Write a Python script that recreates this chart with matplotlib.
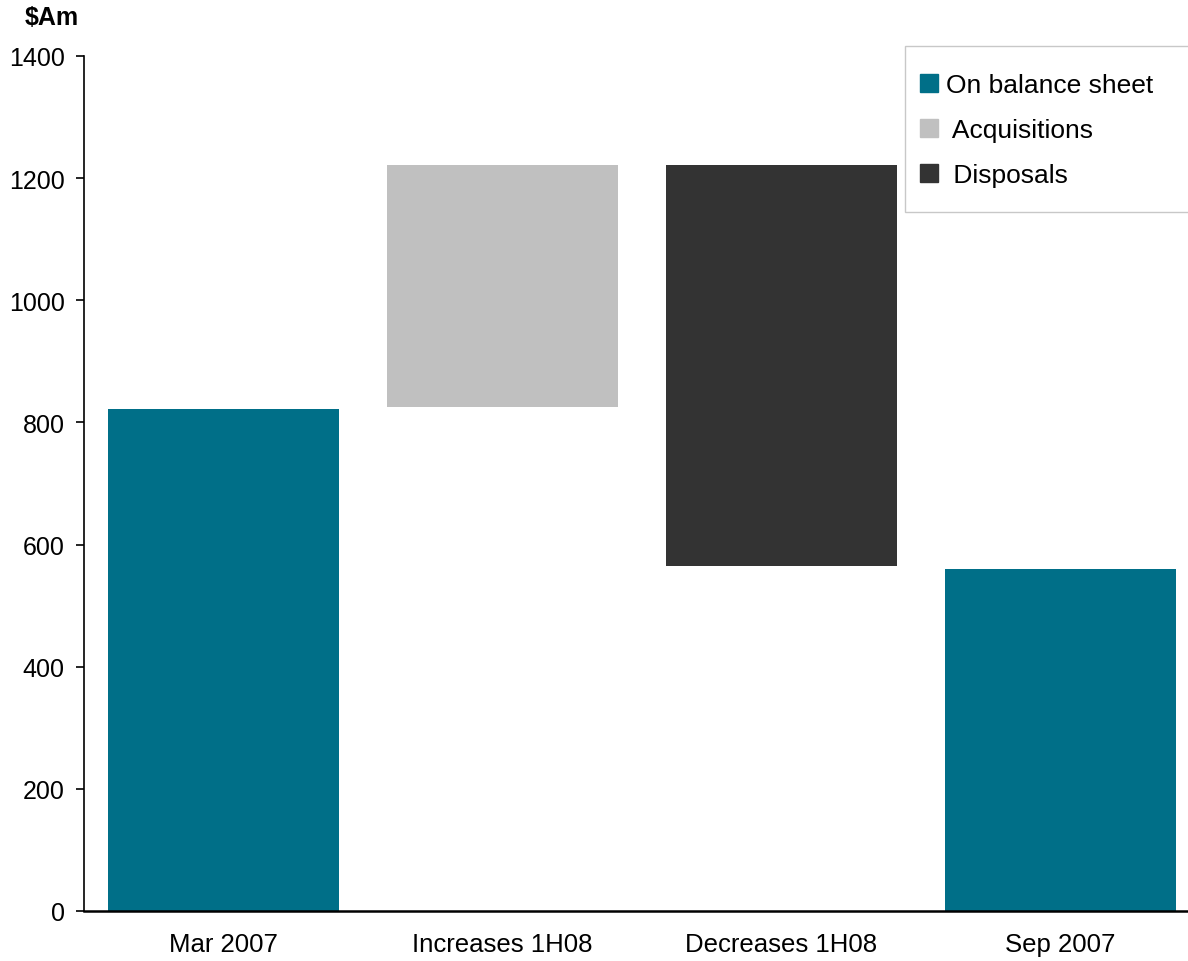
import matplotlib.pyplot as plt
from matplotlib.patches import Patch, Rectangle

plt.rcParams['font.family'] = ['Liberation Sans', 'DejaVu Sans']

categories = ['Mar 2007', 'Increases 1H08', 'Decreases 1H08', 'Sep 2007']
balance = [822, None, None, 560]
acq_low, acq_high = 826, 1222
disp_low, disp_high = 565, 1222

teal = '#006F88'
light = '#C0C0C0'
dark = '#333333'

fig = plt.figure(figsize=(11.88, 9.62), dpi=100)
ax = fig.add_axes([84 / 1188, 50 / 962, 1116 / 1188, 855 / 962])

w = 0.83
x = range(len(categories))
ax.bar(0, balance[0], width=w, color=teal)
ax.bar(3, balance[3], width=w, color=teal)
ax.bar(1, acq_high - acq_low, bottom=acq_low, width=w, color=light)
ax.bar(2, disp_high - disp_low, bottom=disp_low, width=w, color=dark)

ax.set_xlim(-0.5, 3.5)
ax.set_ylim(0, 1400)
ax.set_yticks(range(0, 1401, 200))
ax.set_xticks(list(x))
ax.set_xticklabels(categories)
ax.tick_params(axis='x', length=0, pad=15, labelsize=18.5)
ax.tick_params(axis='y', length=6, width=1.2, pad=8, labelsize=18)
for s in ['top', 'right']:
    ax.spines[s].set_visible(False)
ax.spines['left'].set_linewidth(1.2)
ax.spines['bottom'].set_linewidth(1.8)

fig.text(52 / 1188, 1 - 18 / 962, '\\$Am', fontsize=18, fontweight='bold',
         ha='center', va='center')

# legend box runs off the right edge
fig.patches.append(Rectangle((905 / 1188, 1 - 213 / 962), 300 / 1188, 166 / 962,
                             transform=fig.transFigure, facecolor='white',
                             edgecolor='#C8C8C8', linewidth=1, zorder=3))
handles = [Patch(color=teal), Patch(color=light), Patch(color=dark)]
leg = fig.legend(handles, ['On balance sheet', ' Acquisitions', ' Disposals'],
                 loc='upper left', bbox_to_anchor=(920 / 1188, 1 - 74 / 962),
                 frameon=False, fontsize=19, handlelength=0.7, handleheight=0.7,
                 handletextpad=0.3, labelspacing=0.8, borderpad=0, borderaxespad=0)
leg.set_zorder(4)

fig.savefig('out.png', dpi=100)
